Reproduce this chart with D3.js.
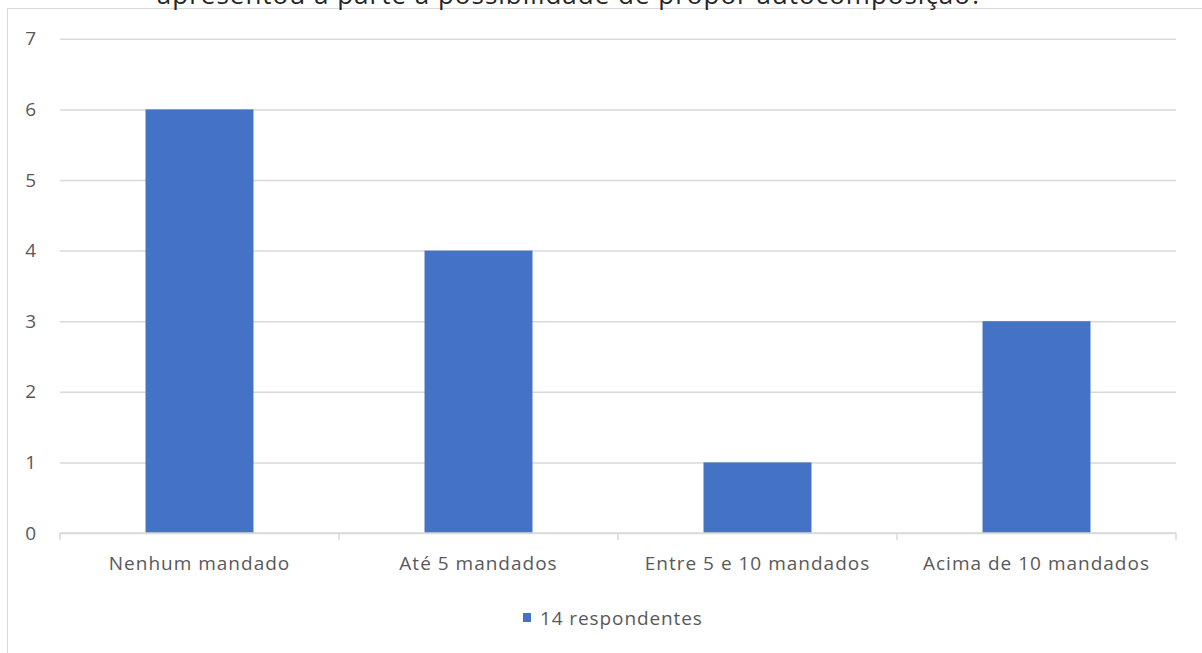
<!DOCTYPE html>
<html>
<head>
<meta charset="utf-8">
<script src="https://cdn.jsdelivr.net/npm/d3@7"></script>
<style>
  html, body { margin: 0; padding: 0; background: #fff; overflow: hidden; }
  svg { display: block; font-family: "Open Sans", "Noto Sans", sans-serif; }
</style>
</head>
<body>
<svg id="chart" width="1202" height="653"></svg>
<script>
// Respostas por faixa de mandados
const categories = ["Nenhum mandado", "Até 5 mandados", "Entre 5 e 10 mandados", "Acima de 10 mandados"];
const values = [6, 4, 1, 3];
const yTicks = [0, 1, 2, 3, 4, 5, 6, 7];
const seriesName = "14 respondentes";
const titleText = "apresentou a parte a possibilidade de propor autocomposição?";

const svg = d3.select("#chart");
const textColor = "#595959";
const gridColor = "#d9d9d9";
const barColor = "#4472c4";

// Chart frame (continues past the right and bottom edges)
svg.append("rect")
  .attr("x", 7.5).attr("y", 8.5)
  .attr("width", 1300).attr("height", 700)
  .attr("fill", "#fff").attr("stroke", gridColor).attr("stroke-width", 1);

// Title line sitting just above the frame
svg.append("text")
  .attr("x", 570).attr("y", 4)
  .attr("text-anchor", "middle")
  .attr("font-size", 26)
  .attr("letter-spacing", 1)
  .attr("fill", "#262626")
  .text(titleText);

const plot = { left: 60, right: 1176, top: 38.8, bottom: 533 };

const x = d3.scaleBand()
  .domain(categories)
  .range([plot.left, plot.right])
  .paddingInner(0.613)
  .paddingOuter(0.613 / 2);

const y = d3.scaleLinear()
  .domain([0, 7])
  .range([plot.bottom, plot.top]);

// Horizontal gridlines
svg.append("g")
  .attr("transform", `translate(${plot.left},0)`)
  .call(d3.axisLeft(y).tickValues(yTicks).tickSize(-(plot.right - plot.left)).tickFormat(""))
  .call(g => g.select(".domain").remove())
  .call(g => g.selectAll(".tick line").attr("stroke", gridColor).attr("stroke-width", 1.5));

// Y tick labels
svg.append("g")
  .attr("transform", `translate(${plot.left},0)`)
  .call(d3.axisLeft(y).tickValues(yTicks).tickSize(0).tickPadding(24).tickFormat(d3.format("d")))
  .call(g => g.select(".domain").remove())
  .call(g => g.selectAll("text")
    .attr("fill", textColor)
    .attr("font-size", 19)
    .attr("font-family", "'Open Sans', sans-serif"));

// Bars
svg.append("g")
  .selectAll("rect")
  .data(values)
  .join("rect")
  .attr("x", (d, i) => x(categories[i]))
  .attr("y", d => y(d))
  .attr("width", x.bandwidth())
  .attr("height", d => y(0) - y(d))
  .attr("fill", barColor);

// Category axis with separators between slots
const slot = d3.scaleBand().domain(categories).range([plot.left, plot.right]);
const xAxis = svg.append("g").attr("transform", `translate(0,${plot.bottom})`);
xAxis.append("line")
  .attr("x1", plot.left).attr("x2", plot.right)
  .attr("stroke", gridColor).attr("stroke-width", 1.5);
const boundaries = categories.map(c => slot(c)).concat([plot.right]);
xAxis.selectAll("line.sep")
  .data(boundaries)
  .join("line")
  .attr("class", "sep")
  .attr("x1", d => d).attr("x2", d => d)
  .attr("y1", 0).attr("y2", 7)
  .attr("stroke", gridColor).attr("stroke-width", 1.5);
xAxis.selectAll("text")
  .data(categories)
  .join("text")
  .attr("x", d => slot(d) + slot.bandwidth() / 2)
  .attr("y", 37)
  .attr("text-anchor", "middle")
  .attr("fill", textColor)
  .attr("font-size", 19)
  .attr("letter-spacing", 1)
  .text(d => d);

// Legend
const legend = svg.append("g").attr("transform", "translate(523,613)");
legend.append("rect").attr("width", 8).attr("height", 9).attr("fill", barColor);
legend.append("text")
  .attr("x", 17).attr("y", 12)
  .attr("fill", textColor)
  .attr("font-size", 19)
  .attr("letter-spacing", 0.9)
  .text(seriesName);
</script>
</body>
</html>
